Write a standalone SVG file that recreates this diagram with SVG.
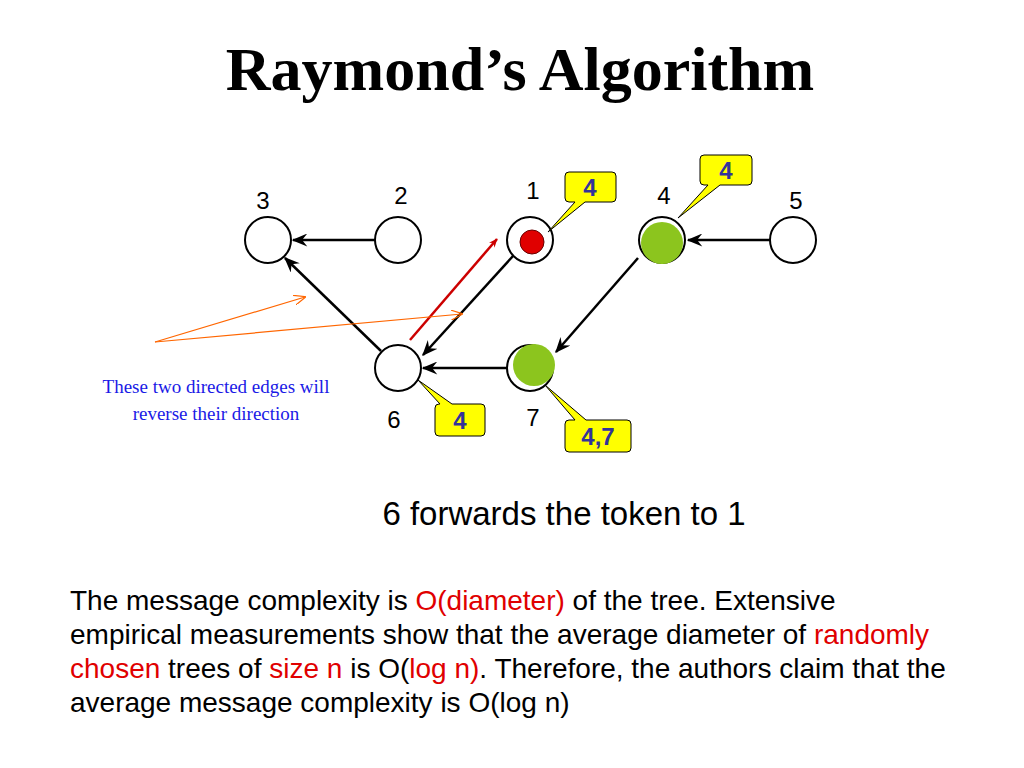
<svg xmlns="http://www.w3.org/2000/svg" width="1024" height="768" viewBox="0 0 1024 768">
<style>
.n{fill:#fff;stroke:#000;stroke-width:2}
.lbl{font-family:"Liberation Sans",Arial,sans-serif;font-size:24px;fill:#000;text-anchor:middle}
.e{stroke:#000;stroke-width:2.5;fill:none;marker-end:url(#ah)}
.cb{fill:#ffff00;stroke:#000;stroke-width:1}
.ct{font-family:"Liberation Sans",Arial,sans-serif;font-size:24px;font-weight:bold;fill:#33339a;text-anchor:middle}
.body{font-family:"Liberation Sans",Arial,sans-serif;font-size:28px;fill:#000}
.r{fill:#e00000}
</style>
<defs>
<marker id="ah" viewBox="0 0 12 10" refX="11" refY="5" markerWidth="16" markerHeight="13" orient="auto" markerUnits="userSpaceOnUse"><path d="M0,0 L12,5 L0,10 L4,5 Z" fill="#000"/></marker>
<marker id="ahr" viewBox="0 0 12 10" refX="11" refY="5" markerWidth="9" markerHeight="8" orient="auto" markerUnits="userSpaceOnUse"><path d="M0,0 L12,5 L0,10 L4,5 Z" fill="#cc0000"/></marker>
<marker id="aho" viewBox="0 0 12 10" refX="11" refY="5" markerWidth="12" markerHeight="10" orient="auto" markerUnits="userSpaceOnUse"><path d="M0,0 L12,5 L0,10" fill="none" stroke="#ff6600" stroke-width="1.2"/></marker>
</defs>
<rect width="1024" height="768" fill="#fff"/>
<text x="520" y="90" text-anchor="middle" font-family="'Liberation Serif','Times New Roman',serif" font-weight="bold" font-size="62">Raymond’s Algorithm</text>

<g id="connectors">
<line class="e" x1="375" y1="240" x2="293" y2="240"/>
<line class="e" x1="770" y1="240" x2="688" y2="240"/>
<line class="e" x1="638" y1="258" x2="556" y2="352"/>
<line class="e" x1="513" y1="256" x2="423" y2="355"/>
<line class="e" x1="507" y1="368" x2="423" y2="368"/>
<line class="e" x1="381" y1="351" x2="285" y2="258"/>
<line x1="410" y1="340" x2="497" y2="239" stroke="#cc0000" stroke-width="2.5" marker-end="url(#ahr)"/>
<line x1="155" y1="342" x2="305" y2="297" stroke="#ff6600" stroke-width="1.2" marker-end="url(#aho)"/>
<line x1="155" y1="342" x2="462" y2="314" stroke="#ff6600" stroke-width="1.2" marker-end="url(#aho)"/>
</g>

<g id="node3"><circle class="n" cx="268" cy="240" r="23"/><text class="lbl" x="263" y="209">3</text></g>
<g id="node2"><circle class="n" cx="398" cy="240" r="23"/><text class="lbl" x="401" y="204">2</text></g>
<g id="node1"><circle class="n" cx="530" cy="240" r="23"/><circle class="r" cx="532" cy="242" r="12" stroke="#600" stroke-width="1"/><text class="lbl" x="533" y="199">1</text></g>
<g id="node4"><circle class="n" cx="662" cy="240" r="23"/><circle cx="662" cy="243" r="21" fill="#8cc51e"/><text class="lbl" x="664" y="204">4</text></g>
<g id="node5"><circle class="n" cx="793" cy="240" r="23"/><text class="lbl" x="796" y="209">5</text></g>
<g id="node6"><circle class="n" cx="398" cy="368" r="23"/><text class="lbl" x="394" y="428">6</text></g>
<g id="node7"><circle class="n" cx="530" cy="368" r="23"/><circle cx="534" cy="365" r="21" fill="#8cc51e"/><text class="lbl" x="533" y="426">7</text></g>

<g id="callout1"><path class="cb" d="M569,172 H612 Q616,172 616,176 V198 Q616,202 612,202 H585 L548,232 L575,202 H569 Q565,202 565,198 V176 Q565,172 569,172 Z"/><text class="ct" x="590" y="196">4</text></g>
<g id="callout4"><path class="cb" d="M704,155 H748 Q752,155 752,159 V181 Q752,185 748,185 H720 L678,218 L708,185 H704 Q700,185 700,181 V159 Q700,155 704,155 Z"/><text class="ct" x="726" y="179">4</text></g>
<g id="callout6"><path class="cb" d="M418,380 L452,404 H481 Q485,404 485,408 V432 Q485,436 481,436 H439 Q435,436 435,432 V408 Q435,404 439,404 H440 Z"/><text class="ct" x="460" y="429">4</text></g>
<g id="callout7"><path class="cb" d="M545,385 L586,420 H627 Q631,420 631,424 V448 Q631,452 627,452 H569 Q565,452 565,448 V424 Q565,420 569,420 H575 Z"/><text class="ct" x="598" y="445">4,7</text></g>

<g id="note" font-family="'Liberation Serif','Times New Roman',serif" font-size="19" fill="#1a1ae6" text-anchor="middle">
<text x="216" y="393">These two directed edges will</text>
<text x="216" y="420">reverse their direction</text>
</g>

<text x="564" y="525" text-anchor="middle" font-family="'Liberation Sans',Arial,sans-serif" font-size="33">6 forwards the token to 1</text>

<g>
<text class="body" x="70" y="610">The message complexity is <tspan fill="#e00000">O(diameter)</tspan> of the tree. Extensive</text>
<text class="body" x="70" y="644">empirical measurements show that the average diameter of <tspan fill="#e00000">randomly</tspan></text>
<text class="body" x="70" y="678"><tspan fill="#e00000">chosen</tspan> trees of <tspan fill="#e00000">size n</tspan> is O(<tspan fill="#e00000">log n)</tspan>. Therefore, the authors claim that the</text>
<text class="body" x="70" y="712">average message complexity is O(log n)</text>
</g>
</svg>
